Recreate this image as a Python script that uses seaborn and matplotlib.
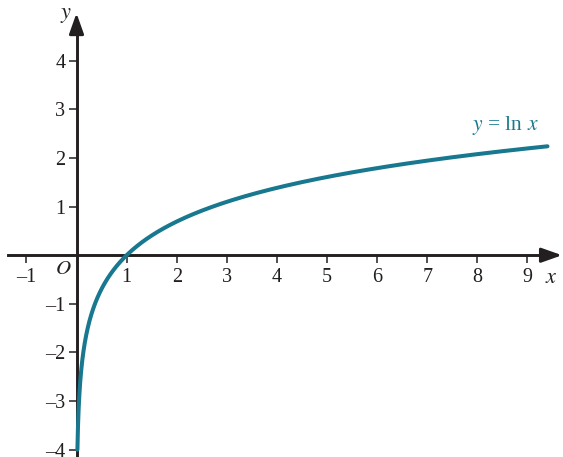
import numpy as np
import matplotlib
matplotlib.use("Agg")
import matplotlib.pyplot as plt
import seaborn as sns
from matplotlib.ticker import FixedLocator, FuncFormatter

# Axis ticks and labels
x_ticks = [-1, 1, 2, 3, 4, 5, 6, 7, 8, 9]
y_ticks = [-4, -3, -2, -1, 1, 2, 3, 4]

# Domain of the plotted function y = ln x
x_start = np.exp(-4)
x_end = 9.4
x_vals = np.geomspace(x_start, x_end, 600)
y_vals = np.log(x_vals)

sns.set_style("white")
plt.rcParams["font.family"] = ["Liberation Serif", "DejaVu Serif"]
plt.rcParams["mathtext.fontset"] = "stix"

ink = "#231f20"
teal = "#17788f"

fig = plt.figure(figsize=(5.63, 4.57), dpi=100)
ax = fig.add_axes([0, 0, 1, 1])
ax.set_xlim(-1.527, 9.71)
ax.set_ylim(-4.15, 5.25)

sns.lineplot(x=x_vals, y=y_vals, ax=ax, color=teal, linewidth=2.9,
             sort=False, estimator=None, zorder=3)

# Axes through the origin
for side in ("top", "right"):
    ax.spines[side].set_visible(False)
ax.spines["bottom"].set_position(("data", 0))
ax.spines["left"].set_position(("data", 0))
ax.spines["bottom"].set_bounds(-1.37, 9.45)
ax.spines["left"].set_bounds(-4.2, 4.8)
for side in ("bottom", "left"):
    ax.spines[side].set_linewidth(2.1)
    ax.spines[side].set_color(ink)
    ax.spines[side].set_zorder(2)

arrow_kw = dict(arrowstyle="-|>,head_length=0.62,head_width=0.22",
                color=ink, lw=2.1, shrinkA=0, shrinkB=0, mutation_scale=20)
ax.annotate("", xy=(9.69, 0), xytext=(9.3, 0), arrowprops=arrow_kw)
ax.annotate("", xy=(0, 4.98), xytext=(0, 4.6), arrowprops=arrow_kw)

dash = lambda v, _: f"{int(v)}".replace("-", "\u2013")
ax.xaxis.set_major_locator(FixedLocator(x_ticks))
ax.yaxis.set_major_locator(FixedLocator(y_ticks))
ax.xaxis.set_major_formatter(FuncFormatter(dash))
ax.yaxis.set_major_formatter(FuncFormatter(dash))
ax.tick_params(axis="both", direction="out", length=6, width=1.1,
               color=ink, labelcolor=ink, labelsize=14.5)
ax.tick_params(axis="x", bottom=True, pad=3)
ax.tick_params(axis="y", left=True, pad=2)
ax.grid(False)
ax.set_xlabel("")
ax.set_ylabel("")

# Axis names, origin and curve label
ax.text(-0.2, 4.93, "$y$", fontsize=16, color=ink, ha="center", va="center")
ax.text(9.48, -0.48, "$x$", fontsize=16, color=ink, ha="center", va="center")
ax.text(-0.27, -0.3, "$O$", fontsize=15, color=ink, ha="center", va="center")
ax.text(8.55, 2.66, "$y$ = ln $x$", fontsize=15.5, color=teal,
        ha="center", va="center")

fig.savefig("out.png", dpi=100)
